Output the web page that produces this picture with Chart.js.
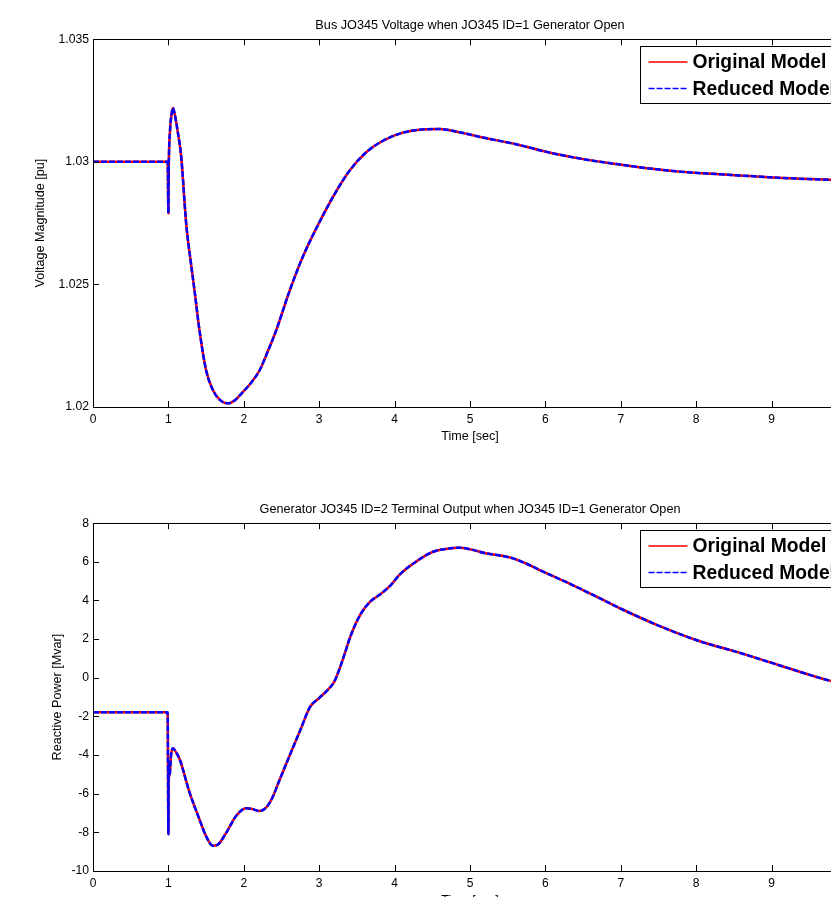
<!DOCTYPE html>
<html>
<head>
<meta charset="utf-8">
<script src="https://cdn.jsdelivr.net/npm/chart.js@4.4.0/dist/chart.umd.min.js"></script>
<style>
    html, body { margin: 0; padding: 0; background: #fff; overflow: hidden; width: 831px; height: 897px; }
    .plot { position: absolute; left: 0; }
</style>
</head>
<body>
<canvas id="voltage-chart" class="plot" width="940" height="450" style="top:0"></canvas>
<canvas id="reactive-chart" class="plot" width="940" height="450" style="top:484px"></canvas>
<script>
const seriesNames = ['Original Model', 'Reduced Model'];
const timeTicks = [0, 1, 2, 3, 4, 5, 6, 7, 8, 9, 10];

// top plot: bus voltage [pu]
const voltageTime = [0, 0.99, 1.0, 1.005, 1.02, 1.04, 1.058, 1.08, 1.12, 1.17, 1.236, 1.30, 1.346, 1.412, 1.50,
    1.59, 1.69, 1.79, 1.89, 1.99, 2.10, 2.21, 2.32, 2.43, 2.61, 2.78, 3.00, 3.23, 3.40, 3.62, 3.84, 4.11,
    4.42, 4.60, 4.73, 5.17, 5.61, 6.05, 6.50, 6.94, 7.38, 7.82, 8.27, 8.71, 9.15, 9.77, 10.0];
const voltageOriginal = [1.03, 1.03, 1.0279, 1.0298, 1.0312, 1.0319, 1.0322, 1.0320, 1.0313, 1.0302, 1.02747,
    1.02584, 1.02476, 1.02313, 1.0215, 1.02069, 1.02027, 1.02015, 1.0203, 1.02062, 1.021, 1.0215, 1.02228,
    1.02313, 1.02476, 1.02611, 1.02752, 1.02882, 1.02963, 1.03038, 1.03085, 1.03119, 1.03133, 1.03134,
    1.03129, 1.03099, 1.03072, 1.03038, 1.03011, 1.02991, 1.02973, 1.02959, 1.0295, 1.02942, 1.02934,
    1.02927, 1.02925];
// reduced model sits right on top of the original one
const voltageReduced = voltageOriginal;
const voltageTicks = [1.02, 1.025, 1.03, 1.035];

// bottom plot: reactive power [Mvar]
const powerTime = [0, 0.99, 1.0, 1.005, 1.015, 1.035, 1.06, 1.10, 1.15, 1.28, 1.41, 1.50, 1.59, 1.65, 1.77,
    1.90, 2.03, 2.10, 2.21, 2.30, 2.38, 2.47, 2.60, 2.75, 2.88, 3.00, 3.12, 3.20, 3.30, 3.42, 3.55, 3.68,
    3.82, 3.95, 4.07, 4.30, 4.51, 4.70, 4.86, 5.00, 5.21, 5.40, 5.57, 5.75, 5.97, 6.36, 6.81, 7.03, 7.50,
    8.04, 8.57, 9.10, 9.77, 10.0];
const powerOriginal = [-1.78, -1.78, -8.1, -4.5, -5.1, -4.0, -3.65, -3.85, -4.22, -5.93, -7.31, -8.2, -8.69,
    -8.65, -8.0, -7.14, -6.75, -6.78, -6.9, -6.7, -6.2, -5.33, -4.1, -2.7, -1.5, -1.05, -0.6, -0.2, 0.8, 2.2,
    3.3, 3.95, 4.35, 4.8, 5.35, 6.05, 6.52, 6.68, 6.73, 6.65, 6.44, 6.33, 6.18, 5.9, 5.49, 4.8, 3.94, 3.52,
    2.7, 1.9, 1.3, 0.65, -0.15, -0.35];
const powerReduced = powerOriginal;
const powerTicks = [-10, -8, -6, -4, -2, 0, 2, 4, 6, 8];

Chart.defaults.font.family = '"Liberation Sans", Arial, sans-serif';
Chart.defaults.color = '#000';

// box, inward ticks and boxed legend like the matlab figure
const matlabAxes = {
    id: 'matlabAxes',
    afterDraw(chart) {
        const { ctx, chartArea: a, scales: { x, y } } = chart;
        ctx.save();
        ctx.strokeStyle = '#000';
        ctx.lineWidth = 1;
        ctx.beginPath();
        ctx.rect(Math.round(a.left) + 0.5, Math.round(a.top) + 0.5, Math.round(a.right - a.left), Math.round(a.bottom - a.top));
        x.ticks.forEach(t => {
            const px = Math.round(x.getPixelForValue(t.value)) + 0.5;
            ctx.moveTo(px, a.bottom); ctx.lineTo(px, a.bottom - 6);
            ctx.moveTo(px, a.top); ctx.lineTo(px, a.top + 6);
        });
        y.ticks.forEach(t => {
            const py = Math.round(y.getPixelForValue(t.value)) + 0.5;
            ctx.moveTo(a.left, py); ctx.lineTo(a.left + 6, py);
            ctx.moveTo(a.right, py); ctx.lineTo(a.right - 6, py);
        });
        ctx.stroke();

        // legend
        const lx = Math.round(a.left + 546.5) + 0.5, ly = Math.round(a.top + 7) + 0.5;
        ctx.fillStyle = '#fff';
        ctx.fillRect(lx, ly, 215, 57);
        ctx.strokeRect(lx, ly, 215, 57);
        ctx.font = 'bold 19.3px "Liberation Sans", Arial, sans-serif';
        ctx.textBaseline = 'middle';
        [0, 1].forEach(i => {
            const ds = chart.data.datasets.find(d => d.label === seriesNames[i]);
            const ry = ly + 15.5 + i * 26.5;
            ctx.beginPath();
            ctx.strokeStyle = ds.borderColor;
            ctx.lineWidth = 1.5;
            ctx.setLineDash(ds.borderDash || []);
            ctx.moveTo(lx + 8, ry); ctx.lineTo(lx + 47, ry);
            ctx.stroke();
            ctx.setLineDash([]);
            ctx.fillStyle = '#000';
            ctx.fillText(ds.label, lx + 52, ry + 1);
        });
        ctx.restore();
    }
};

function makeChart(id, opts) {
    new Chart(document.getElementById(id), {
        type: 'line',
        data: {
            datasets: [{
                label: seriesNames[0],
                data: opts.time.map((t, i) => ({ x: t, y: opts.original[i] })),
                borderColor: '#ff0000',
                borderWidth: 2.5,
                order: 1
            }, {
                label: seriesNames[1],
                data: opts.time.map((t, i) => ({ x: t, y: opts.reduced[i] })),
                borderColor: '#0000ff',
                borderWidth: 2.5,
                borderDash: [6, 2],
                order: 0
            }]
        },
        plugins: [matlabAxes],
        options: {
            responsive: false,
            animation: false,
            events: [],
            elements: {
                point: { radius: 0 },
                line: { cubicInterpolationMode: 'monotone' }
            },
            layout: { padding: { left: 0, right: 93, top: 0, bottom: 0 } },
            plugins: {
                legend: { display: false },
                tooltip: { enabled: false },
                title: {
                    display: true,
                    fullSize: false,
                    text: opts.title,
                    font: { size: opts.titleSize, weight: 'normal' },
                    padding: { top: 17.5, bottom: 6.5 }
                }
            },
            scales: {
                x: {
                    type: 'linear',
                    min: 0,
                    max: 10,
                    afterBuildTicks: s => { s.ticks = timeTicks.map(v => ({ value: v })); },
                    afterFit: s => { s.height = opts.xHeight; },
                    grid: { display: false, drawTicks: false },
                    border: { display: false },
                    ticks: { font: { size: 12 }, padding: 5, maxRotation: 0 },
                    title: { display: true, text: 'Time [sec]', font: { size: 12.6 }, padding: { top: 0, bottom: opts.xTitlePad } }
                },
                y: {
                    min: opts.yTicks[0],
                    max: opts.yTicks[opts.yTicks.length - 1],
                    afterBuildTicks: s => { s.ticks = opts.yTicks.map(v => ({ value: v })); },
                    afterFit: s => { s.width = 93; },
                    grid: { display: false, drawTicks: false },
                    border: { display: false },
                    ticks: { font: { size: 12.2 }, padding: 4, callback: v => String(v) },
                    title: { display: true, text: opts.yTitle, font: { size: 12.6 }, padding: { top: opts.yTitlePad, bottom: 0 } }
                }
            }
        }
    });
}

makeChart('voltage-chart', {
    title: 'Bus JO345 Voltage when JO345 ID=1 Generator Open',
    titleSize: 12.7,
    yTitle: 'Voltage Magnitude [pu]',
    time: voltageTime, original: voltageOriginal, reduced: voltageReduced,
    yTicks: voltageTicks, xHeight: 43, xTitlePad: 5.8, yTitlePad: 33
});

makeChart('reactive-chart', {
    title: 'Generator JO345 ID=2 Terminal Output when JO345 ID=1 Generator Open',
    titleSize: 12.65,
    yTitle: 'Reactive Power [Mvar]',
    time: powerTime, original: powerOriginal, reduced: powerReduced,
    yTicks: powerTicks, xHeight: 63, xTitlePad: 26, yTitlePad: 49.5
});
</script>
</body>
</html>
